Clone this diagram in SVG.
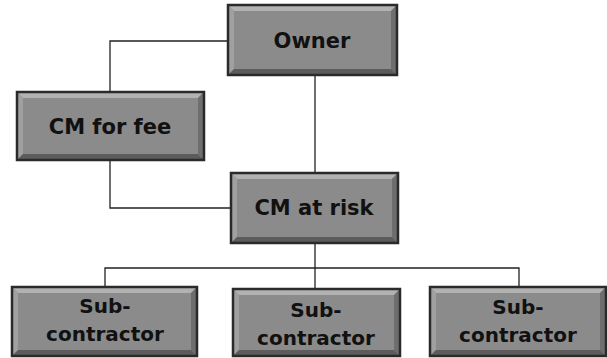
<svg xmlns="http://www.w3.org/2000/svg" width="607" height="358" viewBox="0 0 607 358">
<style>
.base{fill:#8b8b8b}
.t{fill:#b2b2b2}
.l{fill:#a0a0a0}
.r{fill:#6e6e6e}
.b{fill:#5c5c5c}
.edge{fill:none;stroke:#2a2a2a;stroke-width:2.5}
.lbl{font-family:"DejaVu Sans","Noto Sans",sans-serif;font-weight:bold;font-size:21px;fill:#111;text-anchor:middle}
.sm{font-size:20px}
.con{fill:none;stroke:#222;stroke-width:1.3}
</style>
<rect width="607" height="358" fill="#fff"/>
<g id="connectors">
<polyline class="con" points="228,41 110,41 110,92"/>
<polyline class="con" points="110,160 110,208 231,208"/>
<line class="con" x1="315" y1="75" x2="315" y2="173"/>
<line class="con" x1="315" y1="243" x2="315" y2="289"/>
<polyline class="con" points="105,287 105,268 519,268 519,287"/>
</g>
<g id="owner">
<rect class="base" x="228" y="5" width="169" height="70"/>
<polygon class="t" points="228,5 397,5 391,11 234,11"/>
<polygon class="l" points="228,5 234,11 234,69 228,75"/>
<polygon class="r" points="397,5 397,75 391,69 391,11"/>
<polygon class="b" points="228,75 397,75 391,69 234,69"/>
<rect class="edge" x="228" y="5" width="169" height="70"/>
<text class="lbl" x="312" y="48">Owner</text>
</g>
<g id="cm-for-fee">
<rect class="base" x="17" y="92" width="187" height="68"/>
<polygon class="t" points="17,92 204,92 198,98 23,98"/>
<polygon class="l" points="17,92 23,98 23,154 17,160"/>
<polygon class="r" points="204,92 204,160 198,154 198,98"/>
<polygon class="b" points="17,160 204,160 198,154 23,154"/>
<rect class="edge" x="17" y="92" width="187" height="68"/>
<text class="lbl" x="110" y="134">CM for fee</text>
</g>
<g id="cm-at-risk">
<rect class="base" x="231" y="173" width="167" height="70"/>
<polygon class="t" points="231,173 398,173 392,179 237,179"/>
<polygon class="l" points="231,173 237,179 237,237 231,243"/>
<polygon class="r" points="398,173 398,243 392,237 392,179"/>
<polygon class="b" points="231,243 398,243 392,237 237,237"/>
<rect class="edge" x="231" y="173" width="167" height="70"/>
<text class="lbl" x="314" y="215">CM at risk</text>
</g>
<g id="sub1">
<rect class="base" x="12" y="287" width="185" height="69"/>
<polygon class="t" points="12,287 197,287 191,293 18,293"/>
<polygon class="l" points="12,287 18,293 18,350 12,356"/>
<polygon class="r" points="197,287 197,356 191,350 191,293"/>
<polygon class="b" points="12,356 197,356 191,350 18,350"/>
<rect class="edge" x="12" y="287" width="185" height="69"/>
<text class="lbl sm" x="105" y="313">Sub-</text>
<text class="lbl sm" x="105" y="341">contractor</text>
</g>
<g id="sub2">
<rect class="base" x="233" y="289" width="167" height="67"/>
<polygon class="t" points="233,289 400,289 394,295 239,295"/>
<polygon class="l" points="233,289 239,295 239,350 233,356"/>
<polygon class="r" points="400,289 400,356 394,350 394,295"/>
<polygon class="b" points="233,356 400,356 394,350 239,350"/>
<rect class="edge" x="233" y="289" width="167" height="67"/>
<text class="lbl sm" x="316" y="317">Sub-</text>
<text class="lbl sm" x="316" y="345">contractor</text>
</g>
<g id="sub3">
<rect class="base" x="430" y="287" width="176" height="69"/>
<polygon class="t" points="430,287 606,287 600,293 436,293"/>
<polygon class="l" points="430,287 436,293 436,350 430,356"/>
<polygon class="r" points="606,287 606,356 600,350 600,293"/>
<polygon class="b" points="430,356 606,356 600,350 436,350"/>
<rect class="edge" x="430" y="287" width="176" height="69"/>
<text class="lbl sm" x="518" y="314">Sub-</text>
<text class="lbl sm" x="518" y="342">contractor</text>
</g>
</svg>
